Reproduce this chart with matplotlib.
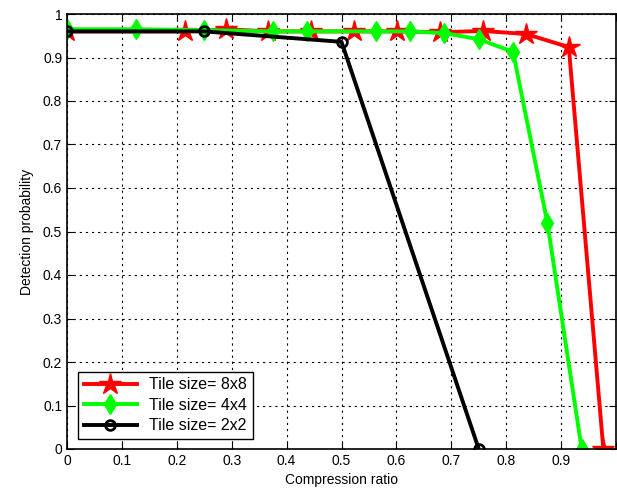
import numpy as np
import matplotlib
matplotlib.use("Agg")
import matplotlib.pyplot as plt

# compression ratio vs detection probability, per tile size
x8 = [0, 0.215, 0.29, 0.367, 0.445, 0.523, 0.602, 0.68, 0.758, 0.836, 0.914, 0.977]
y8 = [0.96, 0.96, 0.965, 0.96, 0.96, 0.96, 0.96, 0.958, 0.961, 0.954, 0.924, 0.0]
x4 = [0, 0.125, 0.25, 0.375, 0.4375, 0.5625, 0.625, 0.6875, 0.75, 0.8125, 0.875, 0.9375]
y4 = [0.965, 0.965, 0.963, 0.96, 0.96, 0.96, 0.96, 0.956, 0.942, 0.913, 0.52, 0.0]
x2 = [0, 0.25, 0.5, 0.75]
y2 = [0.96, 0.96, 0.936, 0.0]
labels = ["Tile size= 8x8", "Tile size= 4x4", "Tile size= 2x2"]
ticklabels = ["0", "0.1", "0.2", "0.3", "0.4", "0.5", "0.6", "0.7", "0.8", "0.9", "1"]

plt.rcParams.update({"font.family": "Liberation Sans", "font.size": 9})

fig = plt.figure(figsize=(6.17, 4.95), dpi=100)
ax = fig.add_axes([67 / 617, 46 / 495, 549 / 617, 435 / 495])

ax.plot(x8, y8, color="red", lw=2.8, marker="*", ms=16, mec="red", mfc="red", label=labels[0])
ax.plot(x4, y4, color="#00ff00", lw=2.8, marker="d", ms=10, mec="#00ff00", mfc="#00ff00",
        label=labels[1])
ax.plot(x2, y2, color="black", lw=2.8, marker="o", ms=7, mec="black", mfc="none", mew=2,
        label=labels[2])

ax.set_xlim(0, 1); ax.set_ylim(0, 1)
ax.set_xticks(np.arange(0, 1.01, 0.1)); ax.set_yticks(np.arange(0, 1.01, 0.1))
ax.set_xticklabels(ticklabels[:-1] + [""])
ax.set_yticklabels(ticklabels)
ax.grid(True, color="black", ls=(0, (2, 3.5)), lw=0.8)
ax.tick_params(direction="in", length=5, top=True, right=True, labelsize=10)
for s in ax.spines.values():
    s.set_linewidth(1.2)
ax.set_xlabel("Compression ratio", fontsize=10, labelpad=4)
ax.set_ylabel("Detection probability", fontsize=10, labelpad=6)

leg = ax.legend(loc="lower left", bbox_to_anchor=(0.012, 0.012), fontsize=11.5,
                fancybox=False, edgecolor="black", framealpha=1, handlelength=3.3,
                borderaxespad=0.3, labelspacing=0.35, borderpad=0.35)
leg.get_frame().set_linewidth(1.0)

fig.savefig("out.png")
